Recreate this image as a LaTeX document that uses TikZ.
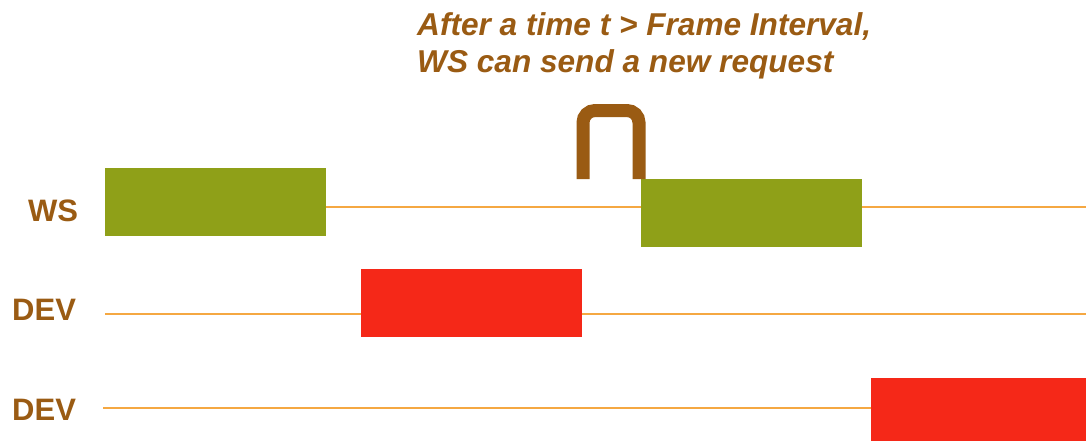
\documentclass[tikz,border=0pt]{standalone}
\usepackage{fontspec}
\setmainfont{Liberation Sans}
\definecolor{olivebox}{RGB}{143,160,24}
\definecolor{redbox}{RGB}{245,40,24}
\definecolor{txtbrown}{RGB}{154,91,19}
\definecolor{lineorange}{RGB}{245,168,66}
\begin{document}
\begin{tikzpicture}[x=1pt,y=-1pt,
  box/.style={draw=none,inner sep=0pt,outer sep=0pt,anchor=north west,minimum width=221pt,minimum height=68pt},
  wsbox/.style={box,fill=olivebox},
  devbox/.style={box,fill=redbox},
  tline/.style={draw=lineorange,line width=2.6pt},
  lbl/.style={text=txtbrown,font=\fontsize{31}{31}\selectfont\bfseries,inner sep=0pt,anchor=base west},
  note/.style={text=txtbrown,font=\fontsize{31.6}{31.6}\selectfont\bfseries\itshape,inner sep=0pt,anchor=base west},
  bracket/.style={draw=txtbrown,line width=13pt,rounded corners=12pt}]
\useasboundingbox (0,0) rectangle (1086,440);
\fill[white] (0,0) rectangle (1086,440);
% lane ends
\coordinate (wsend) at (1086,207);
\coordinate (dev1start) at (105,314);
\coordinate (dev1end) at (1086,314);
\coordinate (dev2start) at (103,408);
% boxes
\node[wsbox] (ws1) at (105,168) {};
\node[wsbox] (ws2) at (641,179) {};
\node[devbox] (dev1) at (361,269) {};
\node[devbox,minimum width=216pt,minimum height=63pt] (dev2) at (871,378) {};
% lines
\draw[tline] (ws1.east |- wsend) -- (ws2.west |- wsend);
\draw[tline] (ws2.east |- wsend) -- (wsend);
\draw[tline] (dev1start) -- (dev1.west |- dev1start);
\draw[tline] (dev1.east |- dev1start) -- (dev1end);
\draw[tline] (dev2start) -- (dev2.west |- dev2start);
% labels
\node[lbl] (lws) at (28,221) {WS};
\node[lbl] (ldev1) at (12,320) {DEV};
\node[lbl] (ldev2) at (12,420) {DEV};
% note
\node[note] (n1) at (417,35) {After a time t > Frame Interval,};
\node[note] (n2) at (417,72) {WS can send a new request};
% bracket
\coordinate (bl) at (583,179);
\coordinate (br) at (639,179);
\draw[bracket] (bl) -- (583,110.5) -- (639,110.5) -- (br);
\end{tikzpicture}
\end{document}
